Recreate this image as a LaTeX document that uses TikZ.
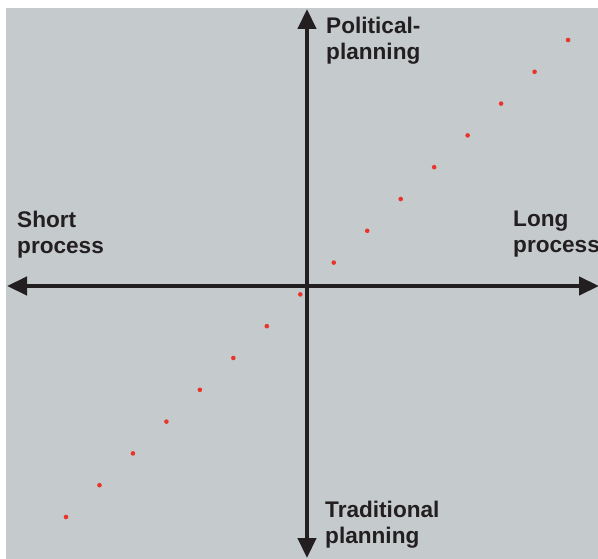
\documentclass[tikz,border=0pt]{standalone}
\usepackage{fontspec}
\setmainfont{Liberation Sans}
\usetikzlibrary{arrows.meta}
\definecolor{bggray}{HTML}{C5CACC}
\definecolor{inkdark}{HTML}{231F20}
\definecolor{dotred}{HTML}{E8342A}

\begin{document}
\begin{tikzpicture}[x=1pt, y=-1pt,
  axis/.style={draw=inkdark, line width=4.5pt, {Triangle[length=20pt, width=18pt]}-{Triangle[length=20pt, width=18pt]}},
  label/.style={text=inkdark, font=\fontsize{22.6}{25.6}\selectfont\bfseries, align=left, inner sep=0pt, anchor=north west}]
  \useasboundingbox (0,0) rectangle (598,559);
  \clip (0,0) rectangle (598,559);
  \fill[bggray] (6,8) rectangle (598,559);

  \coordinate (L) at (7,286);
  \coordinate (R) at (599,286);
  \coordinate (T) at (307,9);
  \coordinate (B) at (307,558);

  % axes
  \draw[axis] (L) -- (R);
  \draw[axis] (B) -- (T);

  % diagonal dots
  \foreach \i in {0,...,15}
    \fill[dotred] ({66+33.47*\i},{517-31.8*\i}) circle (2.3pt);

  \node[label] (pol) at (326,17) {Political-\\planning};
  \node[label] (shp) at (17,211) {Short\\process};
  \node[label] (lgp) at (513,211) {Long\\process};
  \node[label] (trp) at (325,501) {Traditional\\planning};
\end{tikzpicture}
\end{document}
